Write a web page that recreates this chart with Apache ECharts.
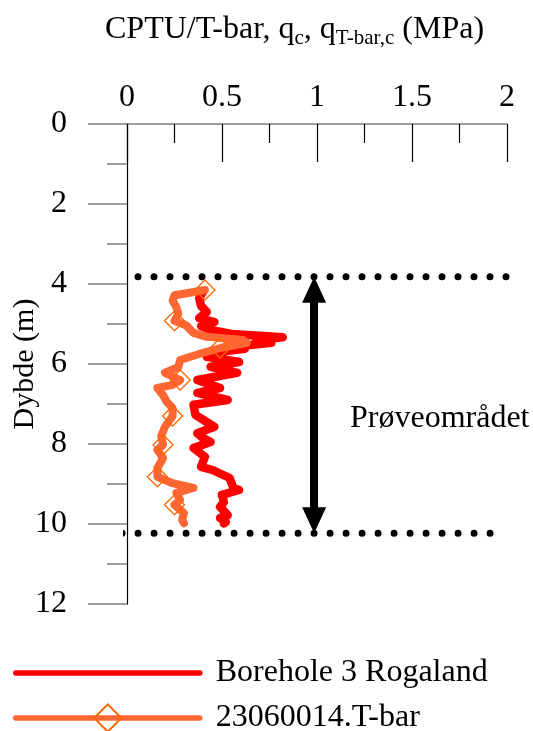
<!DOCTYPE html>
<html>
<head>
<meta charset="utf-8">
<script src="https://cdn.jsdelivr.net/npm/echarts@6/dist/echarts.min.js"></script>
<style>
  html, body { margin: 0; padding: 0; background: #fff; }
  #chart { width: 533px; height: 731px; }
</style>
</head>
<body>
<div id="chart"></div>
<script>
const FONT = '"Liberation Serif", "Times New Roman", serif';

// Axis ranges / ticks
const qTicks = [0, 0.5, 1, 1.5, 2];
const depthTicks = [0, 2, 4, 6, 8, 10, 12];

// Borehole 3 Rogaland: CPTU corrected cone resistance q_c (MPa) vs depth (m)
const boreholeDepth = [4.20, 4.35, 4.55, 4.70, 4.85, 4.95, 5.05, 5.15, 5.25, 5.33, 5.40, 5.47, 5.55, 5.62, 5.72, 5.82,
  5.95, 6.07, 6.22, 6.40, 6.60, 6.72, 6.90, 7.02, 7.27, 7.57, 7.73, 7.85, 7.95, 8.10, 8.32, 8.57, 8.65,
  8.85, 9.10, 9.15, 9.27, 9.45, 9.57, 9.78, 9.85, 9.95, 9.99];
const boreholeQc = [0.40, 0.38, 0.39, 0.42, 0.38, 0.46, 0.39, 0.44, 0.55, 0.82, 0.68, 0.76, 0.60, 0.62, 0.45, 0.42,
  0.59, 0.44, 0.58, 0.37, 0.49, 0.37, 0.53, 0.35, 0.36, 0.46, 0.37, 0.40, 0.44, 0.35, 0.41, 0.39, 0.45,
  0.54, 0.56, 0.59, 0.50, 0.51, 0.49, 0.53, 0.49, 0.52, 0.51];

// 23060014.T-bar: corrected T-bar resistance q_T-bar,c (MPa) vs depth (m)
const tbarDepth = [4.15, 4.22, 4.28, 4.42, 4.58, 4.74, 4.92, 5.03, 5.22, 5.32, 5.40, 5.47, 5.60, 5.72, 5.90,
  6.08, 6.22, 6.40, 6.52, 6.60, 6.78, 6.95, 7.10, 7.30, 7.57, 7.80, 8.02, 8.15, 8.35, 8.60, 8.82,
  8.98, 9.10, 9.22, 9.40, 9.52, 9.73, 9.90, 9.98];
const tbarQ = [0.41, 0.33, 0.25, 0.24, 0.26, 0.27, 0.25, 0.31, 0.35, 0.42, 0.61, 0.63, 0.49, 0.40, 0.28,
  0.27, 0.20, 0.28, 0.24, 0.16, 0.19, 0.21, 0.24, 0.24, 0.20, 0.18, 0.19, 0.16, 0.19, 0.16, 0.16,
  0.24, 0.35, 0.26, 0.28, 0.25, 0.30, 0.29, 0.30];
// Points of the T-bar record that carry a diamond marker
const tbarMarkerIdx = [0, 6, 12, 17, 23, 26, 30, 35];

// Test zone limits (m) and the horizontal extent of the dotted boundary lines (MPa)
const zoneTop = 3.82;
const zoneBottom = 10.23;
const zoneTopSpan = [0.058, 2.0];
const zoneBottomSpan = [-0.026, 1.92];
const zoneArrowQ = 0.985;
const zoneLabel = 'Prøveområdet';

const seriesNames = ['Borehole 3 Rogaland', '23060014.T-bar'];

const chart = echarts.init(document.getElementById('chart'), null, { renderer: 'canvas' });

const GRID = { left: 127, top: 124, width: 380, height: 480, containLabel: false, outerBoundsMode: 'none' };
const depthPerPx = (depthTicks[depthTicks.length - 1] - depthTicks[0]) / GRID.height;
const arrowHead = [24, 26];
const arrowInset = (arrowHead[1] / 2) * depthPerPx;

const boreholeData = boreholeDepth.map((d, i) => [boreholeQc[i], d]);
const tbarData = tbarDepth.map((d, i) => ({
  value: [tbarQ[i], d],
  symbol: tbarMarkerIdx.includes(i) ? 'diamond' : 'none'
}));

const option = {
  animation: false,
  backgroundColor: '#fff',
  textStyle: { fontFamily: FONT, color: '#000' },
  title: {
    text: '{m|CPTU/T-bar, q}{s|c}{m|, q}{s|T-bar,c}{m| (MPa)}',
    left: 105,
    top: 11,
    padding: 0,
    textStyle: {
      fontWeight: 'normal',
      rich: {
        m: { fontFamily: FONT, fontSize: 32, fontWeight: 'normal', color: '#000', lineHeight: 38 },
        s: { fontFamily: FONT, fontSize: 21, fontWeight: 'normal', color: '#000', lineHeight: 25, verticalAlign: 'bottom' }
      }
    }
  },
  grid: GRID,
  xAxis: {
    type: 'value',
    position: 'top',
    min: qTicks[0],
    max: qTicks[qTicks.length - 1],
    interval: qTicks[1] - qTicks[0],
    axisLine: { show: true, lineStyle: { color: '#808080', width: 1.5 } },
    axisTick: { show: true, inside: true, length: 38, lineStyle: { color: '#000', width: 1.2 } },
    minorTick: { show: true, splitNumber: 2, length: 19, lineStyle: { color: '#000', width: 1.2 } },
    splitLine: { show: false },
    axisLabel: { fontFamily: FONT, fontSize: 32, color: '#000', margin: 10 }
  },
  yAxis: {
    type: 'value',
    inverse: true,
    min: depthTicks[0],
    max: depthTicks[depthTicks.length - 1],
    interval: depthTicks[1] - depthTicks[0],
    name: 'Dybde (m)',
    nameLocation: 'middle',
    nameRotate: 90,
    nameGap: 87,
    nameMoveOverlap: false,
    nameTextStyle: { fontFamily: FONT, fontSize: 30, color: '#000' },
    axisLine: { show: true, lineStyle: { color: '#000', width: 1.2 } },
    axisTick: { show: true, inside: false, length: 39, lineStyle: { color: '#808080', width: 1.5 } },
    minorTick: { show: true, splitNumber: 2, length: 20, lineStyle: { color: '#808080', width: 1.5 } },
    splitLine: { show: false },
    axisLabel: { fontFamily: FONT, fontSize: 32, color: '#000', margin: 60 }
  },
  legend: {
    data: [
      { name: seriesNames[0], itemStyle: { opacity: 0 } },
      { name: seriesNames[1] }
    ],
    orient: 'vertical',
    left: 13,
    top: 656,
    height: 100,
    padding: 0,
    itemWidth: 184,
    itemHeight: 34,
    itemGap: 11,
    lineStyle: { width: 5.5, cap: 'round' },
    textStyle: { fontFamily: FONT, fontSize: 32, color: '#000', lineHeight: 34, padding: [0, 0, 0, 11] }
  },
  series: [
    {
      name: 'zone-top',
      type: 'line',
      data: [[zoneTopSpan[0], zoneTop], [zoneTopSpan[1], zoneTop]],
      symbol: 'none',
      clip: false,
      silent: true,
      lineStyle: { color: '#000', width: 7, type: [0, 16], cap: 'round' }
    },
    {
      name: 'zone-bottom',
      type: 'line',
      data: [[zoneBottomSpan[0], zoneBottom], [zoneBottomSpan[1], zoneBottom]],
      symbol: 'none',
      clip: false,
      silent: true,
      lineStyle: { color: '#000', width: 7, type: [0, 16], cap: 'round' },
      markLine: {
        silent: true,
        symbol: ['triangle', 'triangle'],
        symbolSize: arrowHead,
        label: { show: false },
        lineStyle: { color: '#000', width: 8, type: 'solid' },
        itemStyle: { color: '#000' },
        data: [[
          { coord: [zoneArrowQ, zoneTop + arrowInset] },
          { coord: [zoneArrowQ, zoneBottom - arrowInset] }
        ]]
      }
    },
    {
      name: seriesNames[0],
      type: 'line',
      data: boreholeData,
      symbol: 'none',
      color: '#ff0000',
      lineStyle: { color: '#ff0000', width: 8.5, cap: 'round', join: 'round' },
      z: 3
    },
    {
      name: seriesNames[1],
      type: 'line',
      data: tbarData,
      symbol: 'diamond',
      symbolSize: 20,
      showAllSymbol: true,
      color: '#ff6633',
      lineStyle: { color: '#ff6633', width: 8, cap: 'round', join: 'round' },
      itemStyle: { color: 'rgba(255,255,255,0)', borderColor: '#ff6600', borderWidth: 1.3 },
      z: 4
    }
  ],
  graphic: [
    {
      type: 'text',
      left: 350,
      top: 403,
      style: { text: zoneLabel, fontFamily: FONT, fontSize: 32, fill: '#000' }
    }
  ]
};

chart.setOption(option);
</script>
</body>
</html>
